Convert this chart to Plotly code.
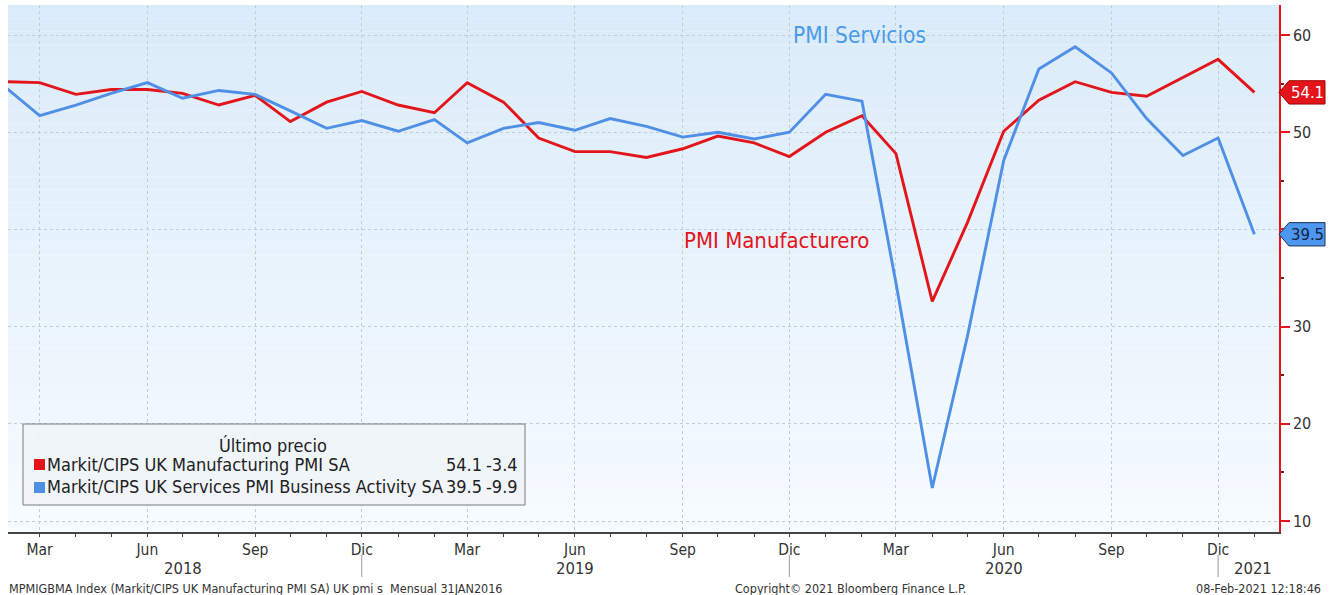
import plotly.graph_objects as go
import pandas as pd

# ---------------- data ----------------
months = pd.date_range("2018-02-01", periods=36, freq="MS")
manufacturing = [55.2, 55.1, 53.9, 54.4, 54.4, 54.0, 52.8, 53.8, 51.1, 53.1, 54.2,
                 52.8, 52.0, 55.1, 53.1, 49.4, 48.0, 48.0, 47.4, 48.3, 49.6, 48.9, 47.5,
                 50.0, 51.7, 47.8, 32.6, 40.7, 50.1, 53.3, 55.2, 54.1, 53.7, 55.6, 57.5,
                 54.1]
services = [54.5, 51.7, 52.8, 54.0, 55.1, 53.5, 54.3, 53.9, 52.2, 50.4, 51.2,
            50.1, 51.3, 48.9, 50.4, 51.0, 50.2, 51.4, 50.6, 49.5, 50.0, 49.3, 50.0,
            53.9, 53.2, 34.5, 13.4, 29.0, 47.1, 56.5, 58.8, 56.1, 51.4, 47.6, 49.4,
            39.5]
tick_dates = ["2018-03-01", "2018-06-01", "2018-09-01", "2018-12-01",
              "2019-03-01", "2019-06-01", "2019-09-01", "2019-12-01",
              "2020-03-01", "2020-06-01", "2020-09-01", "2020-12-01"]
tick_text = ["Mar", "Jun", "Sep", "Dic"] * 3
year_labels = ["2018", "2019", "2020", "2021"]
year_label_pos = ["2018-07-01", "2019-06-01", "2020-06-01", "2020-12-31"]
year_sep_pos = ["2018-12-01", "2019-12-01", "2020-12-01"]
y_ticks = [10, 20, 30, 40, 50, 60]
y_tick_text = ["10", "20", "30", "", "50", "60"]
names = ["Markit/CIPS UK Manufacturing PMI SA",
         "Markit/CIPS UK Services PMI Business Activity SA"]

RED = "#e3151b"
BLUE = "#4f8fe6"
FONT = "Liberation Sans Narrow, DejaVu Sans Condensed, Arial Narrow, sans-serif"

W, H = 1333, 595
L, R, T, B = 8, 54, 5, 63
PW = W - L - R
PH = H - T - B


def px_x(px):
    return (px - L) / PW


def px_y(py):
    return (H - B - py) / PH


def note(text, x, y, xref="paper", yref="paper", xanchor="center",
         size=16, color="#222222"):
    return dict(text=text, xref=xref, yref=yref, x=x, y=y, showarrow=False,
                xanchor=xanchor, yanchor="middle",
                font=dict(color=color, size=size, family=FONT))


fig = go.Figure()
fig.add_trace(go.Scatter(x=months, y=manufacturing, mode="lines",
                         line=dict(color=RED, width=2.9), name=names[0],
                         showlegend=False))
fig.add_trace(go.Scatter(x=months, y=services, mode="lines",
                         line=dict(color=BLUE, width=2.9), name=names[1],
                         showlegend=False))

shapes = []
# gradient background
n = 40
top = (218, 235, 249)
bot = (246, 251, 255)
for i in range(n):
    f = i / (n - 1)
    c = tuple(int(round(top[k] + (bot[k] - top[k]) * f)) for k in range(3))
    shapes.append(dict(type="rect", xref="paper", yref="paper",
                       x0=0, x1=1, y0=1 - (i + 1) / n, y1=1 - i / n,
                       fillcolor="rgb(%d,%d,%d)" % c, line=dict(width=0),
                       layer="below"))

# year separators
for d in year_sep_pos:
    shapes.append(dict(type="line", xref="x", yref="paper", x0=d, x1=d,
                       y0=px_y(555), y1=px_y(577),
                       line=dict(color="#9a9a9a", width=1)))

# end-value tags
def tag(val, fill, border):
    h = 1.2
    xa = 1.0
    xb = 1 + 10 / PW
    xc = 1 + 46 / PW
    path = (f"M {xa},{val} L {xb},{val + h} L {xc},{val + h} "
            f"L {xc},{val - h} L {xb},{val - h} Z")
    return dict(type="path", xref="paper", yref="y", path=path,
                fillcolor=fill, line=dict(color=border, width=1), layer="above")

shapes.append(tag(manufacturing[-1], RED, "#a00000"))
shapes.append(tag(services[-1], "#4e97f0", "#1c3553"))

# legend box
shapes.append(dict(type="rect", xref="paper", yref="paper",
                   x0=px_x(23), x1=px_x(525), y0=px_y(505), y1=px_y(424),
                   fillcolor="rgba(240,244,248,0.92)",
                   line=dict(color="#7a7a7a", width=1)))
for j, col in enumerate([RED, BLUE]):
    yc = 464 + 23 * j
    shapes.append(dict(type="rect", xref="paper", yref="paper",
                       x0=px_x(34), x1=px_x(45), y0=px_y(yc + 6), y1=px_y(yc - 5),
                       fillcolor=col, line=dict(width=0)))

annotations = []
# series labels
annotations.append(note("PMI Servicios", px_x(860), 60, yref="y",
                        size=22.5, color="#4a9be6"))
annotations.append(note("PMI Manufacturero", px_x(776), 38.9, yref="y",
                        size=22, color=RED))
# tag texts
annotations.append(note(f"{manufacturing[-1]:.1f}", 1 + 29 / PW, manufacturing[-1],
                        yref="y", size=16.5, color="white"))
annotations.append(note(f"{services[-1]:.1f}", 1 + 29 / PW, services[-1],
                        yref="y", size=16.5, color="#10233f"))
# year labels
for lab, pos in zip(year_labels, year_label_pos):
    annotations.append(note(lab, pos, px_y(568), xref="x", size=16.5,
                            color="#333333"))
# legend texts
annotations.append(note("Último precio", px_x(273), px_y(445), size=18))
series = [manufacturing, services]
for j in range(2):
    yc = 464 + 23 * j
    last = series[j][-1]
    chg = series[j][-1] - series[j][-2]
    annotations.append(note(names[j], px_x(45), px_y(yc), xanchor="left", size=18))
    annotations.append(note(f"{last:.1f}", px_x(484), px_y(yc), xanchor="right",
                            size=18))
    annotations.append(note(f"{chg:.1f}", px_x(520), px_y(yc), xanchor="right",
                            size=18))
# footer
annotations.append(note("MPMIGBMA Index (Markit/CIPS UK Manufacturing PMI SA) UK pmi s  Mensual 31JAN2016",
                        px_x(7), px_y(588), xanchor="left", size=12.5,
                        color="#333333"))
annotations.append(note("Copyright© 2021 Bloomberg Finance L.P.",
                        px_x(851), px_y(588), size=12.5, color="#333333"))
annotations.append(note("08-Feb-2021 12:18:46",
                        px_x(1323), px_y(588), xanchor="right", size=12.5,
                        color="#333333"))

fig.update_layout(
    width=W, height=H,
    margin=dict(l=L, r=R, t=T, b=B),
    paper_bgcolor="white",
    plot_bgcolor="rgba(0,0,0,0)",
    font=dict(family=FONT, color="#333333"),
    showlegend=False,
    shapes=shapes,
    annotations=annotations,
    xaxis=dict(
        range=["2018-02-02", "2021-01-22"],
        tickmode="array", tickvals=tick_dates, ticktext=tick_text,
        ticks="outside", ticklen=3, tickcolor="#444444",
        ticklabelstandoff=0,
        tickfont=dict(size=15.5, color="#333333", family=FONT),
        showline=True, linecolor="#444444", linewidth=1.5,
        showgrid=True, gridcolor="#c3ccd4", griddash="dot", gridwidth=1,
        minor=dict(dtick="M1", tick0="2018-01-01", ticks="outside", ticklen=3,
                   tickcolor="#444444", showgrid=False),
        zeroline=False,
    ),
    yaxis=dict(
        side="right", range=[8.87, 63.09],
        tickmode="array", tickvals=y_ticks, ticktext=y_tick_text,
        ticks="outside", ticklen=9, tickwidth=2, tickcolor=RED,
        tickfont=dict(size=16, color="#333333", family=FONT),
        showline=True, linecolor=RED, linewidth=1.5,
        showgrid=True, gridcolor="#c3ccd4", griddash="dot", gridwidth=1,
        minor=dict(dtick=5, tick0=5, ticks="outside", ticklen=3,
                   tickcolor="#7a2020", showgrid=False),
        zeroline=False,
    ),
)

fig.write_html("out.html", config={"displayModeBar": False},
               post_script="document.body.style.margin='0';document.body.style.overflow='hidden';")
